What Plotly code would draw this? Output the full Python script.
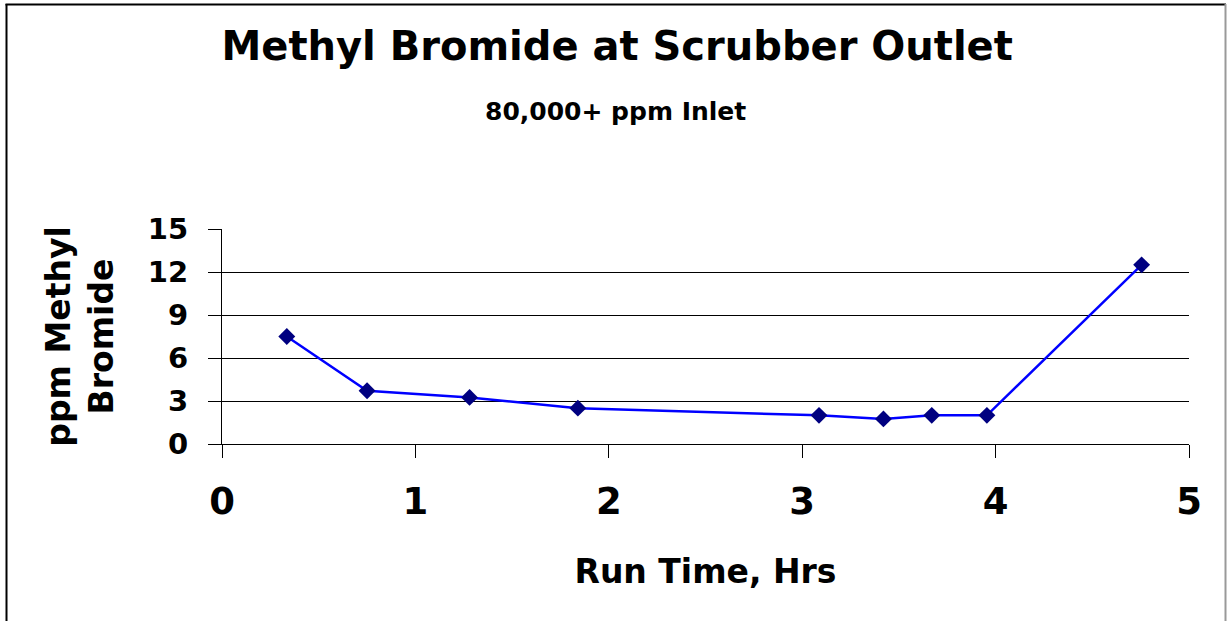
import plotly.graph_objects as go

run_time_hrs = [0.335, 0.75, 1.28, 1.84, 3.087, 3.42, 3.67, 3.955, 4.755]
ppm_methyl_bromide = [7.5, 3.72, 3.25, 2.5, 2.0, 1.75, 2.0, 2.0, 12.5]

x_ticks = [0, 1, 2, 3, 4, 5]
y_ticks = [0, 3, 6, 9, 12, 15]

title_text = "Methyl Bromide at Scrubber Outlet"
subtitle_text = "80,000+ ppm Inlet"
x_title = "Run Time, Hrs"
y_title = "ppm Methyl<br>Bromide"

FONT = "DejaVu Sans, Liberation Sans, Arial, sans-serif"

fig = go.Figure()
fig.add_trace(go.Scatter(
    x=run_time_hrs, y=ppm_methyl_bromide, mode="lines+markers",
    line=dict(color="#0000FF", width=2.5),
    marker=dict(symbol="diamond", size=13, color="#000080",
                line=dict(color="#000080", width=0)),
    showlegend=False, hoverinfo="x+y",
))

L, R, T, B = 222, 38, 229, 177
W, H = 1227, 621
pw, ph = W - L - R, H - T - B

def px_to_paper_x(px):
    return (px - L) / pw

def px_to_paper_y(py):
    return (H - B - py) / ph

fig.update_layout(
    width=W, height=H,
    margin=dict(l=L, r=R, t=T, b=B, pad=0),
    paper_bgcolor="white", plot_bgcolor="white",
    font=dict(family=FONT, color="black"),
    title=dict(text="<b>" + title_text + "</b>", x=0.503, xanchor="center",
               y=1 - 46 / H, yanchor="middle", yref="container",
               font=dict(size=40, family=FONT, color="black")),
    xaxis=dict(range=[0, 5], tickvals=x_ticks, ticktext=[f"<b>{v}</b>" for v in x_ticks],
               ticks="outside", ticklen=13, tickcolor="black", tickwidth=1,
               showline=True, linecolor="black", linewidth=1,
               showgrid=False, zeroline=False,
               tickfont=dict(size=37, family=FONT, color="black"),
               ticklabelstandoff=12,
               title=dict(text="<b>" + x_title + "</b>", standoff=37,
                          font=dict(size=33, family=FONT, color="black"))),
    yaxis=dict(range=[0, 15], tickvals=y_ticks, ticktext=[f"<b>{v}</b>" for v in y_ticks],
               ticks="outside", ticklen=13, tickcolor="black", tickwidth=1,
               showline=True, linecolor="black", linewidth=1,
               showgrid=True, gridcolor="black", gridwidth=1, zeroline=False,
               tickfont=dict(size=29, family=FONT, color="black"),
               ticklabelstandoff=14,
               title=dict(text="<b>" + y_title + "</b>", standoff=24,
                          font=dict(size=33, family=FONT, color="black"))),
    annotations=[dict(text="<b>" + subtitle_text + "</b>", xref="paper", yref="paper",
                      x=px_to_paper_x(615.5), y=px_to_paper_y(111), xanchor="center",
                      yanchor="middle", showarrow=False,
                      font=dict(size=25, family=FONT, color="black"))],
    shapes=[
        dict(type="line", xref="paper", yref="paper",
             x0=px_to_paper_x(6.5), x1=px_to_paper_x(6.5),
             y0=px_to_paper_y(4), y1=px_to_paper_y(640),
             line=dict(color="black", width=2)),
        dict(type="line", xref="paper", yref="paper",
             x0=px_to_paper_x(5.5), x1=px_to_paper_x(1226),
             y0=px_to_paper_y(4.5), y1=px_to_paper_y(4.5),
             line=dict(color="black", width=2)),
        dict(type="line", xref="paper", yref="paper",
             x0=px_to_paper_x(1225.5), x1=px_to_paper_x(1225.5),
             y0=px_to_paper_y(4), y1=px_to_paper_y(640),
             line=dict(color="#999999", width=2)),
    ],
)

fig.write_html(
    "out.html",
    config={"displayModeBar": False},
    post_script="document.body.style.margin='0';document.body.style.padding='0';"
                "document.body.style.overflow='hidden';",
)
